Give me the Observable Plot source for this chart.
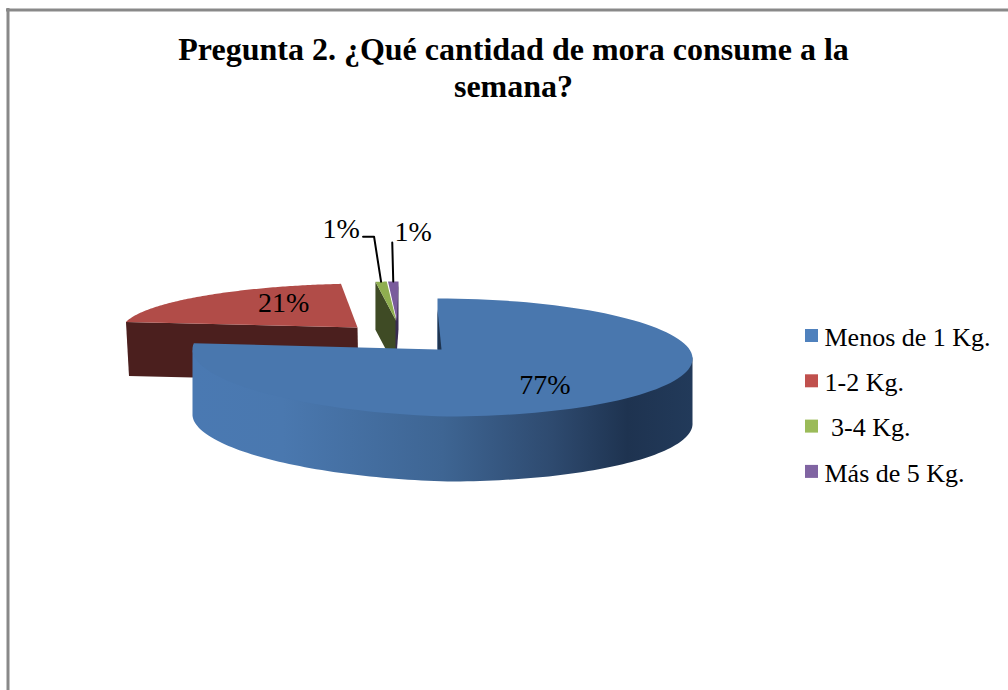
<!DOCTYPE html>
<html lang="es">
<head>
<meta charset="utf-8">
<script src="https://cdn.jsdelivr.net/npm/d3@7"></script>
<script src="https://cdn.jsdelivr.net/npm/@observablehq/plot@0.6"></script>
<style>html,body{margin:0;padding:0;background:#fff;overflow:hidden}svg{display:block}</style>
</head>
<body>
<div id="chart"></div>
<script>
// --- data ---
const titleLines = ["Pregunta 2. ¿Qué cantidad de mora consume a la", "semana?"];
const categories = ["Menos de 1 Kg.", "1-2 Kg.", "\u00a03-4 Kg.", "Más de 5 Kg."];
const shares = [77, 21, 1, 1];

// --- styles ---
const swatchColors = ["#4f81bd", "#c0504d", "#9bbb59", "#8064a2"];
const topColors = ["#4977ae", "#b14c48", "#8fae50", "#7a5c9c"];
const wallColors = ["url(#blueSide)", "#4b1f1e", "#3f4b25", "#392c50"];
const serif = "'Liberation Serif','Times New Roman',serif";
const W = 1008, H = 690;

// --- 3D look of each exploded slice (pixels) ---
const looks = [
  {ax: 437, ay: 349, cx: 442, cy: 357, rx: 250, ry: 59, shear: -5, tilt: 7, depth: 65},
  {ax: 357, ay: 327, cx: 357, cy: 327, rx: 235, ry: 44, shear: 13, tilt: 0, depth: 54},
  {ax: 396, ay: 321, cx: 396, cy: 321, rx: 180, ry: 40, shear: 1.5, tilt: 0, depth: 48},
  {ax: 396.5, ay: 321, cx: 396.5, cy: 321, rx: 167, ry: 40, shear: 1.5, tilt: 0, depth: 48}
];

const total = d3.sum(shares);
const cum = d3.cumsum(shares);
const rad = deg => deg * Math.PI / 180;
const slices = shares.map((v, i) => ({
  i, v, look: looks[i],
  a0: rad(((cum[i] - v) / total) * 360),
  a1: rad((cum[i] / total) * 360)
}));
const rim = (l, a, dy = 0) => ({
  x: l.cx + l.rx * Math.sin(a) + l.shear * Math.cos(a),
  y: l.cy - l.ry * Math.cos(a) + l.tilt * Math.min(0, Math.sin(a)) + dy
});
const arc = (l, a0, a1, dy = 0, n = 120) =>
  d3.range(n + 1).map(k => rim(l, a0 + (a1 - a0) * k / n, dy));

const topFace = s => [{x: s.look.ax, y: s.look.ay}, ...arc(s.look, s.a0, s.a1)];

const polys = [];
const [blue, red, green, purple] = slices;
// red slice: inner wall below the edge that faces the viewer
polys.push({fill: wallColors[1], pts: [
  rim(red.look, red.a0), {x: red.look.ax, y: red.look.ay},
  {x: red.look.ax + 1, y: red.look.ay + red.look.depth},
  {x: rim(red.look, red.a0).x + 3, y: rim(red.look, red.a0).y + red.look.depth}]});
polys.push({fill: topColors[1], pts: topFace(red)});
// green slice
polys.push({fill: wallColors[2], pts: [
  rim(green.look, green.a0), rim(green.look, green.a0, green.look.depth),
  {x: green.look.ax, y: green.look.ay + green.look.depth}, {x: green.look.ax, y: green.look.ay}]});
polys.push({fill: topColors[2], pts: topFace(green)});
// purple slice
polys.push({fill: wallColors[3], pts: [
  rim(purple.look, purple.a1), {x: purple.look.ax - 1.5, y: purple.look.ay},
  {x: purple.look.ax - 1.5, y: purple.look.ay + purple.look.depth},
  rim(purple.look, purple.a1, purple.look.depth)]});
polys.push({fill: topColors[3], pts: topFace(purple)});
// blue slice: front side (tucked under the top so no seam shows), then top, then the notch wall sliver
const bl = blue.look;
polys.push({fill: wallColors[0], pts: [
  rim(bl, rad(90)), {x: bl.cx, y: bl.cy}, rim(bl, rad(270)),
  ...arc(bl, rad(90), rad(270), bl.depth).reverse()]});
polys.push({fill: topColors[0], pts: topFace(blue)});
polys.push({fill: "#1f3551", pts: [
  {x: bl.ax, y: bl.ay - 40}, {x: bl.ax, y: bl.ay}, {x: bl.ax + 4, y: bl.ay}]});

// --- labels ---
const mid = s => (s.a0 + s.a1) / 2;
const pctLabels = [
  {k: 0.62, dx: 0, dy: 0},
  {k: 0.47, dx: 0, dy: -10},
  {k: 1, dx: -40, dy: -53},
  {k: 1, dx: 20, dy: -49}
].map((o, i) => {
  const s = slices[i], m = mid(s), l = s.look;
  const r = {x: l.ax + (rim(l, m).x - l.ax) * o.k, y: l.ay + (rim(l, m).y - l.ay) * o.k};
  if (i === 0) { r.x = l.cx + l.rx * Math.sin(m) * o.k; r.y = l.cy - l.ry * Math.cos(m) * o.k; }
  return {x: r.x + o.dx, y: r.y + o.dy, text: `${s.v}%`};
});
const leaders = [
  (() => { const r = rim(green.look, mid(green)); return [r, {x: r.x - 7, y: r.y - 45}, {x: r.x - 18, y: r.y - 45}]; })(),
  (() => { const r = rim(purple.look, mid(purple)); return [r, {x: r.x - 1, y: r.y - 39}]; })()
];

// --- legend ---
const legendX = 805, legendTop = 329, legendStep = 45.3, swatch = 13;
const legend = categories.map((name, i) => ({
  name, color: swatchColors[i],
  y1: legendTop + i * legendStep, y2: legendTop + i * legendStep + swatch
}));

const gradient = () => {
  const defs = d3.create("svg:defs");
  const g = defs.append("linearGradient").attr("id", "blueSide")
    .attr("gradientUnits", "userSpaceOnUse")
    .attr("x1", 192).attr("x2", 692).attr("y1", 0).attr("y2", 0);
  [[0, "#4a79b2"], [0.18, "#4a78af"], [0.5, "#3e6593"], [0.72, "#2e4a6f"], [0.87, "#1e3350"], [1, "#223a5a"]]
    .forEach(([o, c]) => g.append("stop").attr("offset", o).attr("stop-color", c));
  return defs.node();
};

const chart = Plot.plot({
  width: W, height: H,
  marginTop: 0, marginRight: 0, marginBottom: 0, marginLeft: 0,
  x: {domain: [0, W], range: [0, W], axis: null},
  y: {domain: [0, H], range: [0, H], axis: null},
  style: {background: "#fff", fontFamily: serif},
  marks: [
    gradient,
    Plot.ruleY([9.5], {x1: 6, x2: W, stroke: "#898989", strokeWidth: 3}),
    Plot.ruleX([7.5], {y1: 8, y2: H, stroke: "#898989", strokeWidth: 3}),
    ...polys.map(p => Plot.line(p.pts, {x: "x", y: "y", fill: p.fill, stroke: "none"})),
    ...leaders.map(pts => Plot.line(pts, {x: "x", y: "y", stroke: "#000", strokeWidth: 2, curve: "linear"})),
    Plot.text(pctLabels, {x: "x", y: "y", text: "text", fontSize: 28, fill: "#000", fontFamily: serif}),
    Plot.text(titleLines, {
      x: 513, y: (d, i) => 49.5 + i * 37, text: d => d,
      fontSize: 32, fontWeight: "bold", fill: "#000", fontFamily: serif
    }),
    Plot.rect(legend, {x1: legendX, x2: legendX + swatch, y1: "y1", y2: "y2", fill: d => d.color}),
    Plot.text(legend, {
      x: 824, y: "y1", dy: 8, text: "name", textAnchor: "start",
      fontSize: 26, fill: "#000", fontFamily: serif
    })
  ]
});
document.getElementById("chart").append(chart);
</script>
</body>
</html>
